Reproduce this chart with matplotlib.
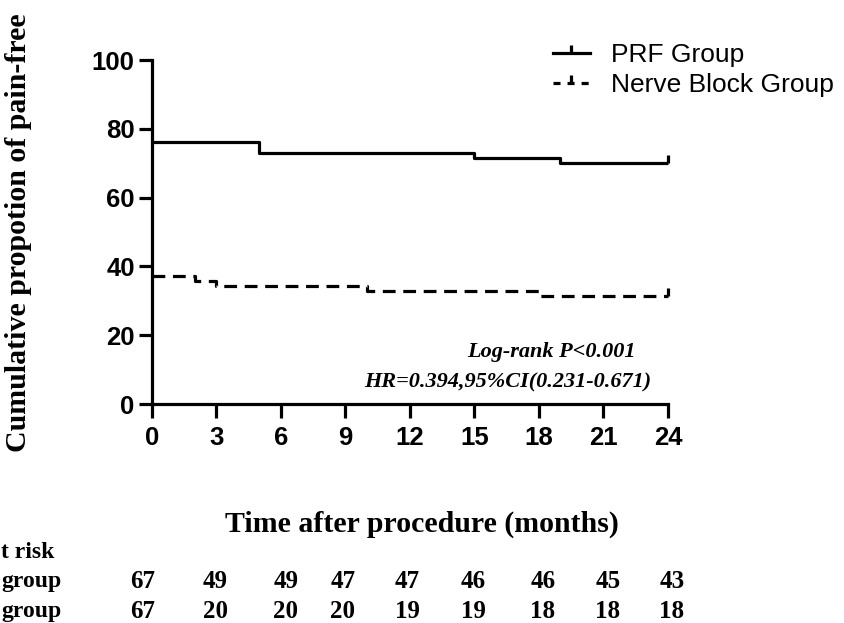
import matplotlib
matplotlib.use("Agg")
import matplotlib.pyplot as plt
from matplotlib.lines import Line2D
from matplotlib.path import Path

# Kaplan-Meier steps (percent pain-free)
prf_time = [0, 5, 15, 19, 24]
prf_surv = [76.1, 73.1, 71.6, 70.1, 70.1]
nb_time = [0, 2, 3, 10, 18, 24]
nb_surv = [37.3, 35.8, 34.3, 32.8, 31.3, 31.3]

xticks = [0, 3, 6, 9, 12, 15, 18, 21, 24]
yticks = [0, 20, 40, 60, 80, 100]

# numbers at risk (row labels are cut at the left edge in the source figure)
risk_prf = [67, 49, 49, 47, 47, 46, 46, 45, 43]
risk_nb = [67, 20, 20, 20, 19, 19, 18, 18, 18]
risk_labels = ["t risk", "group", "group"]

W, H = 845, 623
fig = plt.figure(figsize=(W / 100, H / 100), dpi=100)

def fx(px):
    return px / W

def fy(py):
    return 1 - py / H

ax = fig.add_axes([fx(152), fy(404), fx(668) - fx(152), fy(60) - fy(404)])

lw = 2.3
censor = Path([(0, 0), (0, 1)], [Path.MOVETO, Path.LINETO])

ax.step(prf_time, prf_surv, where="post", color="black", lw=lw, clip_on=False,
        solid_capstyle="butt")
ax.plot([prf_time[-1]], [prf_surv[-1]], marker=censor, ms=12, mew=lw, color="black",
        clip_on=False)
ax.step(nb_time, nb_surv, where="post", color="black", lw=lw, clip_on=False,
        linestyle=(0, (4, 2.4)), dash_capstyle="butt")
ax.plot([nb_time[-1]], [nb_surv[-1]], marker=censor, ms=12, mew=lw, color="black",
        clip_on=False)

ax.set_xlim(0, 24)
ax.set_ylim(0, 100)
ax.set_xticks(xticks)
ax.set_yticks(yticks)
for s in ["top", "right"]:
    ax.spines[s].set_visible(False)
for s in ["left", "bottom"]:
    ax.spines[s].set_linewidth(2.3)
ax.tick_params(axis="x", length=10, width=2.3, pad=6)
ax.tick_params(axis="y", length=9.5, width=2.3, pad=3)
for lab in ax.get_xticklabels() + ax.get_yticklabels():
    lab.set_fontfamily("Liberation Sans")
    lab.set_fontweight("bold")
    lab.set_fontsize(18.5)

# legend
h1 = Line2D([0], [0], color="black", lw=lw, marker=censor, ms=12, mew=lw)
h2 = Line2D([0], [0], color="black", lw=lw, linestyle=(0, (2.2, 2.2)),
            marker=censor, ms=12, mew=lw)
leg = ax.legend([h1, h2], ["PRF Group", "Nerve Block Group"], loc="upper left",
                bbox_to_anchor=(fx(529), fy(19)), bbox_transform=fig.transFigure,
                frameon=False, handlelength=1.4, handletextpad=0.8,
                labelspacing=0.25, markerscale=1.0,
                prop={"family": "Liberation Sans", "size": 19})

# annotation
fig.text(fx(551), fy(352), "Log-rank P<0.001", ha="center", va="center",
         family="Liberation Serif", weight="bold", style="italic", fontsize=16)
fig.text(fx(508), fy(382), "HR=0.394,95%CI(0.231-0.671)", ha="center", va="center",
         family="Liberation Serif", weight="bold", style="italic", fontsize=16)

# axis labels
fig.text(fx(19), fy(233), "Cumulative propotion of pain-free", rotation=90,
         ha="center", va="center", family="Liberation Serif", weight="bold",
         fontsize=21.5)
fig.text(fx(422), fy(524), "Time after procedure (months)", ha="center", va="center",
         family="Liberation Serif", weight="bold", fontsize=21.5)

# risk table
col_px = [143, 215, 286, 343, 407, 473, 543, 608, 672]
row_py = [552, 582, 612]
for lab, py in zip(risk_labels, row_py):
    fig.text(fx(1), fy(py), lab, ha="left", va="center",
             family="Liberation Serif", weight="bold", fontsize=17)
for vals, py in zip([risk_prf, risk_nb], row_py[1:]):
    for v, px in zip(vals, col_px):
        fig.text(fx(px), fy(py), str(v), ha="center", va="center",
                 family="Liberation Serif", weight="bold", fontsize=18)

fig.savefig("out.png", dpi=100)
